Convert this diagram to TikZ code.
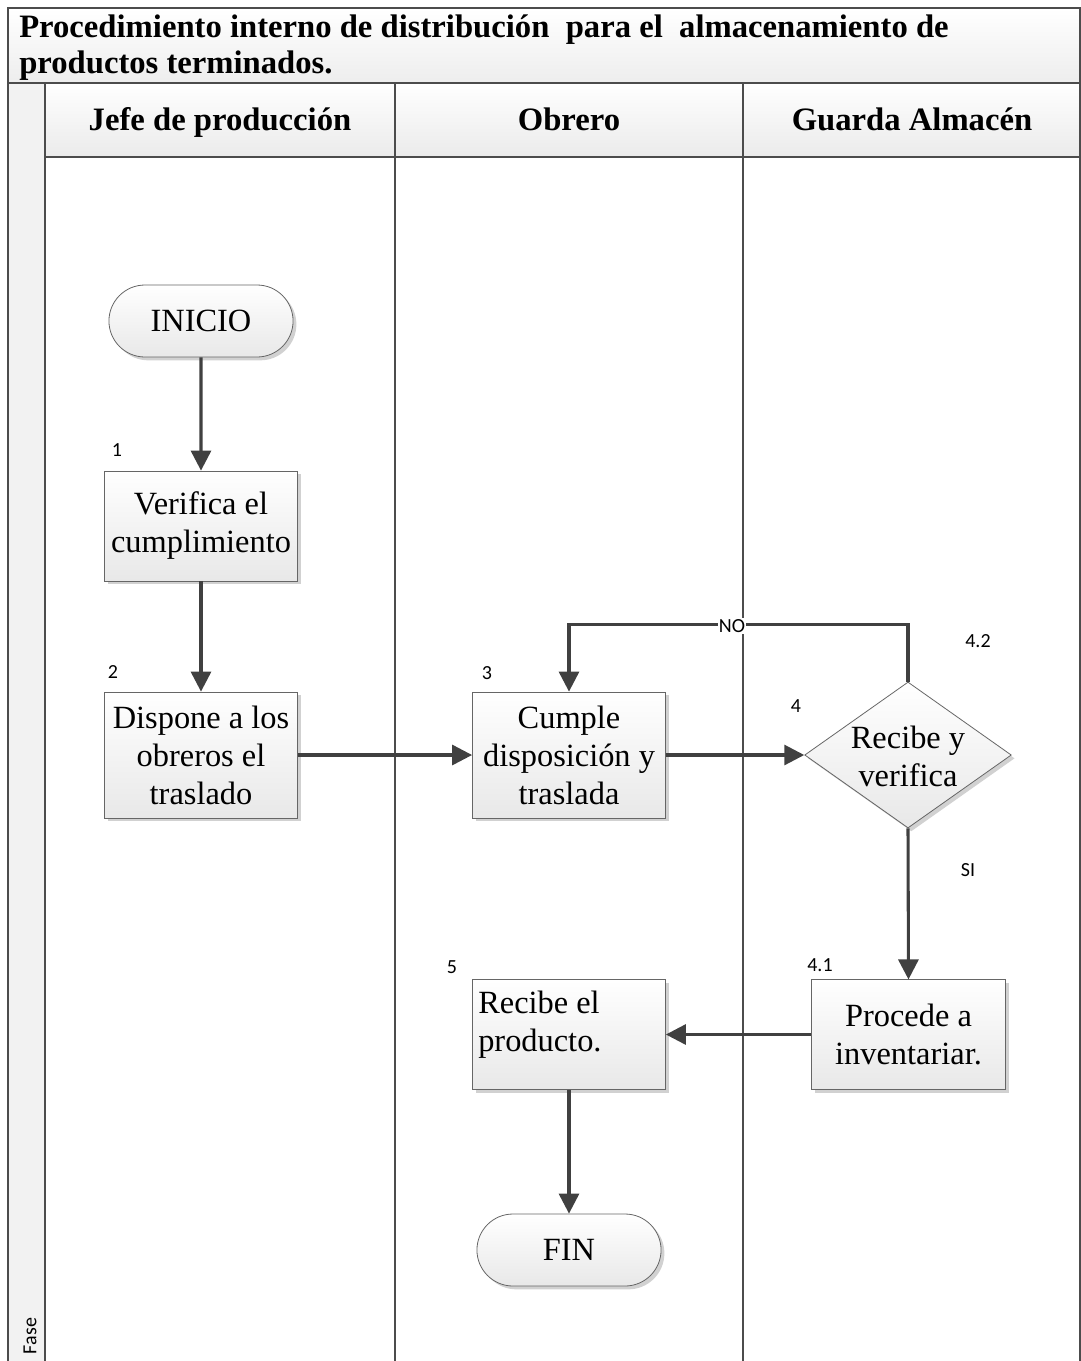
\documentclass[tikz,border=0pt]{standalone}
\usepackage{fontspec}
\setmainfont{Liberation Serif}
\newfontfamily\numfont{Carlito}
\usetikzlibrary{arrows.meta,shapes.geometric,shapes.misc,shadows}
\begin{document}
\begin{tikzpicture}[x=0.75pt,y=-0.75pt,
  lane/.style={draw=black!70,line width=1.2pt},
  flow/.style={draw=black!75,line width=2.3pt,-{Triangle[length=15pt,width=15pt]}},
  boxtext/.style={font=\fontsize{24.3}{28.5}\selectfont},
  shapelook/.style={draw=black!60,line width=0.6pt,top color=white,bottom color=black!9,
    drop shadow={shadow xshift=2.5pt,shadow yshift=-2.5pt,fill=black!18,opacity=1}},
  procbox/.style={shapelook,boxtext,align=center,minimum width=144.75pt,minimum height=82.5pt,inner sep=1pt},
  term/.style={shapelook,boxtext,rounded rectangle,minimum width=144.75pt,minimum height=54pt},
  decision/.style={shapelook,diamond,minimum width=155pt,minimum height=109.5pt,inner sep=0pt},
  num/.style={font=\numfont\fontsize{15}{17}\selectfont,inner sep=1pt},
  headtext/.style={font=\fontsize{24.5}{28}\selectfont\bfseries,anchor=base}
]
\useasboundingbox (0,0) rectangle (1081,1361);
% title band, header row and phase column
\shade[top color=white,bottom color=black!7] (8,8) rectangle (1080,83);
\shade[top color=white,bottom color=black!8] (45,83) rectangle (1080,157);
\fill[black!5] (8,83) rectangle (45,1361);
\draw[lane] (8,1361) -- (8,8) -- (1080,8) -- (1080,1361);
\draw[lane] (8,83) -- (1080,83);
\draw[lane] (45,157) -- (1080,157);
\draw[lane] (45,83) -- (45,1361);
\draw[lane] (395,83) -- (395,1361);
\draw[lane] (743,83) -- (743,1361);

\node[anchor=north west,align=left,inner sep=0pt,font=\fontsize{24.5}{27}\selectfont\bfseries] (title) at (19,15)
  {Procedimiento interno de distribución\ \ para el\ \ almacenamiento de\\productos terminados.};
\node[headtext] (h1) at (220,130) {Jefe de producción};
\node[headtext] (h2) at (569,130) {Obrero};
\node[headtext] (h3) at (912,130) {Guarda Almacén};
\node[num,rotate=90] (fase) at (30,1336) {Fase};

% flow nodes
\node[term] (ini) at (201,321) {INICIO};
\node[procbox] (b1) at (201,526) {Verifica el\\cumplimiento};
\node[procbox,minimum height=94.5pt] (b2) at (201,755) {Dispone a los\\obreros el\\traslado};
\node[procbox,minimum height=94.5pt] (b3) at (569,755) {Cumple\\disposición y\\traslada};
\node[decision] (dec) at (908,755) {};
\node[boxtext,align=center] (dect) at (908,756) {Recibe y\\verifica};
\node[procbox,minimum width=146pt,minimum height=82pt] (b41) at (908.5,1034.5) {Procede a\\inventariar.};
\node[procbox,minimum height=82pt] (b5) at (569,1034.5) {};
\node[boxtext,anchor=north west,align=left,inner sep=0pt] (b5t) at (478,991) {Recibe el\\producto.};
\node[term] (fin) at (569,1250) {FIN};

% step numbers
\node[num] (n1) at (117,450) {1};
\node[num] (n2) at (113,672) {2};
\node[num] (n3) at (487,673) {3};
\node[num] (n4) at (796,706) {4};
\node[num] (n42) at (978,641) {4.2};
\node[num] (nsi) at (968,870) {SI};
\node[num] (n41) at (820,965) {4.1};
\node[num] (n5) at (452,967) {5};

% connectors
\draw[flow] (ini) -- (b1);
\draw[flow] (b1) -- (b2);
\draw[flow] (b2.east) -- (b3.west);
\draw[flow] (b3.east) -- (dec.west);
\draw[flow] (dec.north) -- ++(0,-57) coordinate (loop) -| (b3.north);
\node[num,fill=white] (no) at (732,626) {NO};
\draw[flow] (dec.south) -- (b41.north);
\draw[flow] (b41.west) -- (b5.east);
\draw[flow] (b5.south) -- (fin.north);
\end{tikzpicture}
\end{document}
